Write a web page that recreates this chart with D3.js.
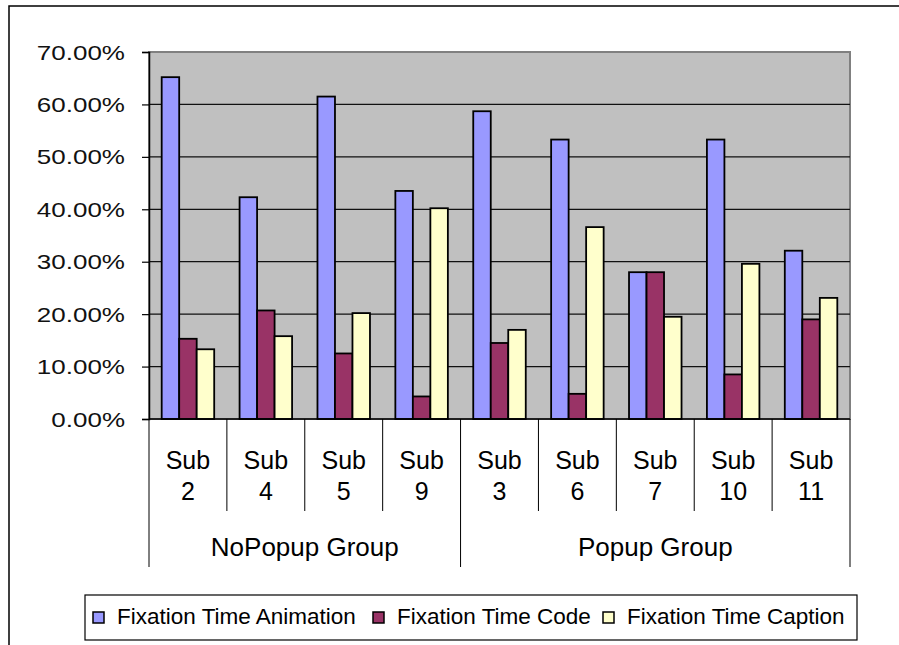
<!DOCTYPE html>
<html>
<head>
<meta charset="utf-8">
<script src="https://cdn.jsdelivr.net/npm/d3@7"></script>
<style>
  html, body { margin: 0; padding: 0; background: #fff; }
  svg { display: block; font-family: "Liberation Sans", Arial, sans-serif; }
</style>
</head>
<body>
<svg id="chart" width="899" height="645"></svg>
<script>
// ---- data ----
const subjects = ["2", "4", "5", "9", "3", "6", "7", "10", "11"];
const groups = [
  { name: "NoPopup Group", count: 4 },
  { name: "Popup Group", count: 5 }
];
const seriesNames = ["Fixation Time Animation", "Fixation Time Code", "Fixation Time Caption"];
const animation = [0.652, 0.423, 0.615, 0.435, 0.587, 0.533, 0.280, 0.533, 0.321];
const code      = [0.153, 0.207, 0.125, 0.043, 0.145, 0.048, 0.280, 0.085, 0.190];
const caption   = [0.133, 0.158, 0.202, 0.402, 0.170, 0.366, 0.195, 0.296, 0.231];
const yTicks = [0, 0.1, 0.2, 0.3, 0.4, 0.5, 0.6, 0.7];
const colors = ["#9999FF", "#993366", "#FFFFCC"];

const seriesValues = [animation, code, caption];

const svg = d3.select("#chart");

// outer border
svg.append("rect").attr("x", 9).attr("y", 6).attr("width", 900).attr("height", 660)
  .attr("fill", "#fff").attr("stroke", "#000").attr("stroke-width", 1.5);

const plot = { left: 149, right: 850, top: 52, bottom: 419 };

const x = d3.scaleBand().domain(d3.range(subjects.length))
  .range([plot.left, plot.right]).paddingInner(0).paddingOuter(0);
const xs = d3.scaleBand().domain(d3.range(seriesNames.length))
  .range([0, x.bandwidth()]).paddingInner(0).paddingOuter(0.725);
const y = d3.scaleLinear().domain([0, 0.7]).range([plot.bottom, plot.top]);

// plot background
svg.append("rect").attr("x", plot.left).attr("y", plot.top)
  .attr("width", plot.right - plot.left).attr("height", plot.bottom - plot.top)
  .attr("fill", "#C0C0C0").attr("stroke", "#808080").attr("stroke-width", 2);

// gridlines
svg.append("g").selectAll("line").data(yTicks.filter(d => d > 0 && d < 0.7)).join("line")
  .attr("x1", plot.left).attr("x2", plot.right)
  .attr("y1", d => y(d)).attr("y2", d => y(d))
  .attr("stroke", "#111").attr("stroke-width", 1.2);

// y axis
const yAxis = svg.append("g").attr("transform", `translate(${plot.left},0)`)
  .call(d3.axisLeft(y).tickValues(yTicks).tickSize(7).tickFormat(d => (d * 100).toFixed(2) + "%"));
yAxis.select(".domain").attr("stroke", "#000").attr("stroke-width", 1.5);
yAxis.selectAll(".tick line").attr("stroke", "#000").attr("stroke-width", 1.2);
yAxis.selectAll(".tick text")
  .attr("font-size", 20).attr("fill", "#111")
  .attr("font-family", "'Liberation Sans', Arial, sans-serif")
  .attr("x", null).attr("dy", null)
  .attr("text-anchor", "end")
  .attr("transform", "translate(-24,7) scale(1.3,1)");

// bars
seriesValues.forEach((vals, si) => {
  svg.append("g").selectAll("rect").data(vals).join("rect")
    .attr("x", (d, i) => x(i) + xs(si))
    .attr("y", d => y(d))
    .attr("width", xs.bandwidth())
    .attr("height", d => y(0) - y(d))
    .attr("fill", colors[si])
    .attr("stroke", "#000").attr("stroke-width", 1.8);
});

// x axis line
svg.append("line").attr("x1", plot.left).attr("x2", plot.right)
  .attr("y1", plot.bottom).attr("y2", plot.bottom)
  .attr("stroke", "#000").attr("stroke-width", 1.5);

// category separators
const sepX = d3.range(subjects.length + 1).map(i => i < subjects.length ? x(i) : plot.right);
let groupBounds = [0];
groups.forEach(g => groupBounds.push(groupBounds[groupBounds.length - 1] + g.count));
svg.append("g").selectAll("line").data(sepX).join("line")
  .attr("x1", d => d).attr("x2", d => d)
  .attr("y1", plot.bottom)
  .attr("y2", (d, i) => groupBounds.includes(i) ? 567 : 511)
  .attr("stroke", "#000").attr("stroke-width", 1);

// subject labels
const lab = svg.append("g").attr("font-size", 25).attr("text-anchor", "middle").attr("fill", "#000");
lab.selectAll("text.sub").data(subjects).join("text").attr("class", "sub")
  .attr("x", (d, i) => x(i) + x.bandwidth() / 2).attr("y", 469).text("Sub");
lab.selectAll("text.num").data(subjects).join("text").attr("class", "num")
  .attr("x", (d, i) => x(i) + x.bandwidth() / 2).attr("y", 500).text(d => d);

// group labels
lab.selectAll("text.grp").data(groups).join("text").attr("class", "grp")
  .attr("font-size", 26)
  .attr("x", (d, i) => (sepX[groupBounds[i]] + sepX[groupBounds[i + 1]]) / 2)
  .attr("y", 556).text(d => d.name);

// legend
const legend = svg.append("g");
legend.append("rect").attr("x", 85).attr("y", 595).attr("width", 772).attr("height", 45)
  .attr("fill", "#fff").attr("stroke", "#000").attr("stroke-width", 1.2);
const legendX = [93, 373, 603];
seriesNames.forEach((name, i) => {
  legend.append("rect").attr("x", legendX[i]).attr("y", 612).attr("width", 11).attr("height", 11)
    .attr("fill", colors[i]).attr("stroke", "#000").attr("stroke-width", 1.5);
  legend.append("text").attr("x", legendX[i] + 24).attr("y", 624)
    .attr("font-size", 22.5).attr("fill", "#000").text(name);
});
</script>
</body>
</html>
